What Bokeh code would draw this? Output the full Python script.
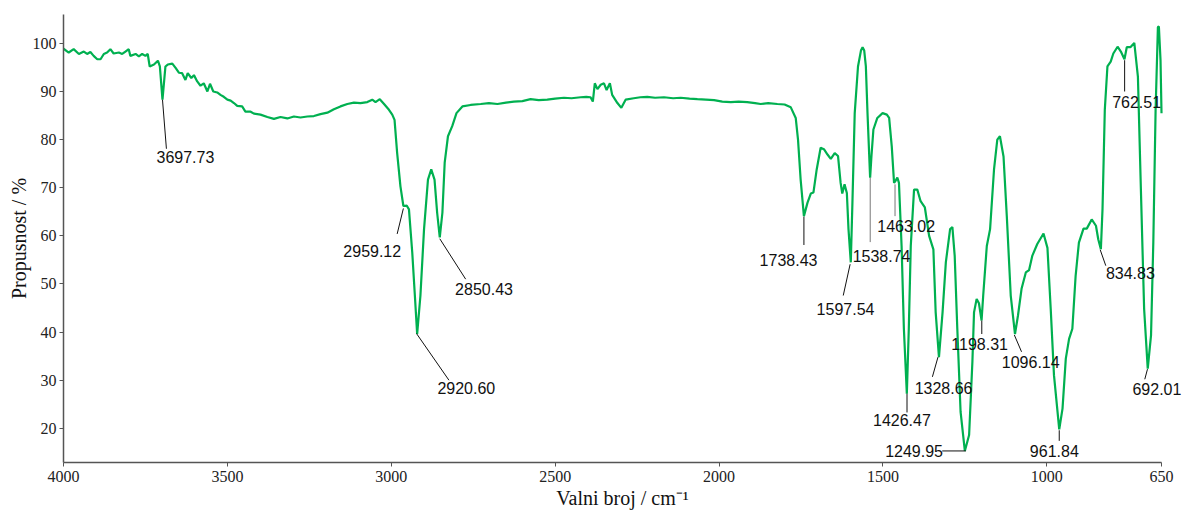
from bokeh.plotting import figure
from bokeh.models import Range1d, FixedTicker, ColumnDataSource, Label
from bokeh.embed import file_html
from bokeh.resources import INLINE

# Spectrum (wavenumber in cm-1, transmittance in %)
wavenumber = [
    4000, 3984, 3969, 3953, 3938, 3928, 3918, 3908, 3897, 3887, 3877, 3867, 3857, 3847,
    3831, 3821, 3811, 3801, 3796, 3780, 3770, 3760, 3750, 3743, 3737, 3724, 3712, 3706,
    3698, 3689, 3682, 3668, 3658, 3648, 3638, 3628, 3621, 3610, 3602, 3592, 3582, 3572,
    3561, 3553, 3543, 3531, 3521, 3511, 3500, 3490, 3480, 3470, 3455, 3445, 3429, 3419,
    3399, 3378, 3358, 3338, 3317, 3297, 3277, 3256, 3236, 3216, 3195, 3175, 3155, 3134,
    3114, 3094, 3073, 3058, 3048, 3035, 3022, 3007, 2997, 2990, 2982, 2972, 2963, 2953,
    2946, 2936, 2928, 2921, 2911, 2900, 2888, 2878, 2868, 2860, 2852, 2844, 2837, 2827,
    2814, 2801, 2783, 2758, 2727, 2702, 2676, 2650, 2626, 2600, 2575, 2550, 2524, 2500,
    2473, 2450, 2422, 2405, 2392, 2385, 2379, 2371, 2361, 2351, 2343, 2333, 2326, 2310,
    2298, 2285, 2260, 2240, 2219, 2195, 2168, 2140, 2117, 2090, 2066, 2040, 2015, 1990,
    1964, 1940, 1914, 1890, 1873, 1850, 1822, 1800, 1781, 1766, 1759, 1751, 1741, 1730,
    1720, 1712, 1702, 1690, 1680, 1669, 1659, 1647, 1637, 1629, 1624, 1617, 1610, 1605,
    1598, 1593, 1586, 1576, 1567, 1562, 1557, 1552, 1547, 1539, 1535, 1529, 1517, 1501,
    1488, 1481, 1473, 1466, 1461, 1456, 1451, 1443, 1436, 1427, 1421, 1415, 1405, 1395,
    1385, 1372, 1359, 1346, 1339, 1329, 1318, 1308, 1295, 1288, 1281, 1273, 1263, 1250,
    1237, 1227, 1222, 1214, 1207, 1199, 1194, 1183, 1173, 1161, 1151, 1143, 1132, 1122,
    1110, 1097, 1088, 1077, 1064, 1054, 1044, 1029, 1010, 998, 988, 978, 962, 952,
    942, 932, 922, 912, 902, 888, 878, 863, 850, 843, 835, 830, 823, 815,
    805, 797, 784, 774, 763, 756, 745, 733, 722, 714, 703, 692, 682, 675,
    668, 661, 658, 653, 650,
]
transmittance = [
    98.9, 98.1, 98.8, 97.8, 98.3, 97.8, 98.2, 97.4, 96.7, 96.7, 97.8, 98.1, 98.8, 97.9,
    98.1, 97.8, 98.3, 98.8, 97.4, 97.8, 97.3, 97.8, 97.4, 97.8, 95.2, 95.6, 96.4, 95.2,
    88.3, 95.2, 95.6, 95.8, 94.9, 93.9, 93.8, 92.4, 93.8, 92.8, 93.4, 92.1, 91.2, 91.7,
    90.0, 91.6, 90.0, 89.8, 89.3, 88.9, 88.3, 88.1, 87.6, 87.0, 86.9, 85.8, 85.8, 85.4,
    85.2, 84.7, 84.3, 84.7, 84.4, 84.8, 84.6, 84.8, 84.9, 85.3, 85.6, 86.3, 86.9, 87.4,
    87.7, 87.6, 87.8, 88.3, 87.8, 88.4, 87.4, 86.2, 85.2, 84.1, 77.2, 70.3, 66.2, 66.3,
    65.5, 56.6, 47.6, 39.6, 47.6, 61.4, 71.7, 73.8, 71.7, 64.8, 59.7, 64.8, 75.2, 80.7,
    82.8, 85.5, 86.9, 87.2, 87.4, 87.6, 87.4, 87.7, 87.9, 88.0, 88.4, 88.2, 88.3, 88.5,
    88.7, 88.6, 88.8, 88.9, 88.8, 87.9, 91.7, 90.5, 91.4, 91.7, 90.3, 91.7, 89.3, 87.6,
    86.6, 88.3, 88.6, 88.8, 88.9, 88.7, 88.8, 88.6, 88.7, 88.5, 88.4, 88.3, 88.2, 87.9,
    87.8, 87.9, 87.8, 87.6, 87.4, 87.6, 87.4, 87.3, 86.7, 84.5, 80.0, 71.7, 64.1, 66.9,
    68.8, 69.0, 73.8, 78.3, 78.0, 76.9, 76.0, 77.2, 76.6, 71.0, 68.8, 70.7, 68.9, 61.4,
    54.5, 66.9, 85.5, 95.2, 98.5, 99.2, 98.5, 95.2, 85.5, 72.1, 76.5, 82.1, 84.5, 85.5,
    85.2, 84.5, 78.6, 71.0, 71.5, 72.1, 71.0, 57.9, 40.7, 27.2, 40.7, 57.9, 69.6, 69.6,
    67.2, 65.9, 60.0, 57.2, 44.1, 34.8, 44.1, 54.5, 61.4, 61.8, 55.9, 40.7, 23.4, 15.3,
    18.6, 33.8, 44.1, 46.9, 46.0, 42.4, 47.6, 57.9, 61.4, 73.8, 80.0, 80.7, 76.5, 64.1,
    47.6, 39.6, 43.4, 49.0, 52.4, 52.9, 55.9, 58.3, 60.5, 57.5, 44.8, 31.0, 19.8, 24.1,
    34.5, 38.6, 40.7, 51.7, 58.6, 61.5, 61.5, 63.4, 62.1, 59.3, 57.2, 65.5, 86.2, 95.2,
    96.2, 97.9, 99.3, 98.3, 96.7, 99.2, 99.2, 100.1, 93.1, 72.4, 44.8, 32.4, 39.3, 58.6,
    86.2, 103.4, 103.5, 96.5, 85.5,
]

# Peak labels
peak_labels = ["3697.73", "2959.12", "2920.60", "2850.43", "1738.43", "1597.54", "1538.74",
               "1463.02", "1426.47", "1328.66", "1249.95", "1198.31", "1096.14", "961.84",
               "834.83", "692.01", "762.51"]
label_x = [3628, 3058, 2771, 2717, 1788, 1614, 1504, 1429, 1442, 1315, 1405, 1205, 1049, 977,
           745, 664, 726]
label_y = [76.3, 56.8, 28.3, 49.0, 55.0, 44.8, 55.8, 62.1, 21.7, 28.3, 15.2, 37.6, 33.7, 15.2,
           52.2, 28.1, 87.9]
lead_x0 = [3698, 2963, 2923, 2852, 1741, 1600, 1538.74, 1463.02, 1426.47, 1332, 1247, 1198.31, 1099, 962, 837, 692.8, 762.51]
lead_y0 = [88.3, 65.7, 39.7, 59.4, 64.0, 54.1, 72.1, 70.7, 27.2, 34.8, 15.3, 42.4, 39.4, 19.6, 57.1, 32.3, 96.5]
lead_x1 = [3686, 2982, 2824, 2773, 1741, 1621, 1538.74, 1463.02, 1426.47, 1349, 1319, 1198.31, 1077, 962, 820, 701, 762.51]
lead_y1 = [78.1, 60.4, 30.0, 51.0, 58.1, 47.6, 58.7, 64.1, 23.3, 30.7, 15.3, 39.6, 35.9, 17.4, 53.8, 30.2, 90.0]
lead_color = ["#111111"] * 6 + ["#777777", "#777777"] + ["#111111"] * 9

x_ticks = [4000, 3500, 3000, 2500, 2000, 1500, 1000, 650]
y_ticks = [20, 30, 40, 50, 60, 70, 80, 90, 100]

# the frame runs a little past 650 so that the right-hand labels are not cut off;
# the axis line itself stops at 650
p = figure(width=1185, height=511, output_backend="svg", toolbar_location=None,
           x_range=Range1d(4000, 589), y_range=Range1d(12.9, 106),
           min_border_left=63, min_border_right=4, min_border_top=14, min_border_bottom=40)
p.outline_line_color = None
p.grid.visible = False
p.background_fill_color = "white"

p.line(wavenumber, transmittance, line_color="#00b050", line_width=2.2)

lead_src = ColumnDataSource(dict(x0=lead_x0, y0=lead_y0, x1=lead_x1, y1=lead_y1, c=lead_color))
p.segment("x0", "y0", "x1", "y1", source=lead_src, line_color="c", line_width=1)

for t, lx, ly in zip(peak_labels, label_x, label_y):
    p.add_layout(Label(x=lx, y=ly, text=t, text_font="Liberation Sans",
                       text_font_size="16px", text_align="center", text_baseline="middle",
                       text_color="#111111"))

for ax in (p.xaxis[0], p.yaxis[0]):
    ax.axis_line_color = "#555555"
    ax.axis_line_width = 1.5
    ax.major_tick_line_color = "#555555"
    ax.major_tick_out = 4
    ax.major_tick_in = 0
    ax.minor_tick_line_color = None
    ax.major_label_text_font = "Liberation Serif"
    ax.major_label_text_font_size = "16px"
    ax.major_label_text_color = "#222222"
    ax.axis_label_text_font = "Liberation Serif"
    ax.axis_label_text_font_size = "20px"
    ax.axis_label_text_font_style = "normal"
    ax.axis_label_text_color = "#111111"

p.xaxis.bounds = (650, 4000)
p.xaxis.ticker = FixedTicker(ticks=x_ticks)
p.yaxis.ticker = FixedTicker(ticks=y_ticks)
p.xaxis.axis_label = "Valni broj / cm\u207b\u00b9"
p.yaxis.axis_label = "Propusnost / %"
p.xaxis.major_label_standoff = 4
p.xaxis.axis_label_standoff = 2
p.yaxis.major_label_standoff = 3
p.yaxis.axis_label_standoff = 0

open("out.html", "w").write(file_html(p, INLINE))
